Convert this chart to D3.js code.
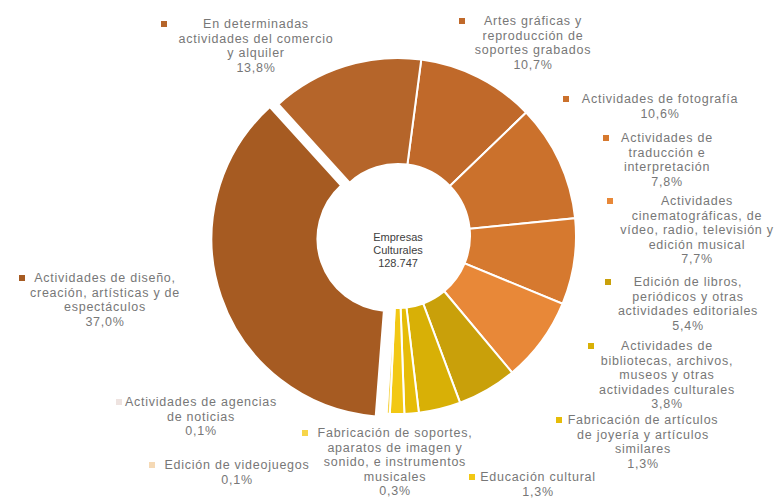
<!DOCTYPE html>
<html lang="es">
<head>
<meta charset="UTF-8">
<title>Empresas culturales</title>
<style>
  body { margin: 0; background: #fff; }
  svg text { font-family: "Liberation Sans", Arial, sans-serif; }
</style>
</head>
<body>
<svg id="chart" width="779" height="501"></svg>
<script src="https://cdn.jsdelivr.net/npm/d3@7/dist/d3.min.js"></script>
<script>
// sectores en el orden del anillo (sentido horario, desde arriba)
var sectores = [
  "Artes gráficas y reproducción de soportes grabados",
  "Actividades de fotografía",
  "Actividades de traducción e interpretación",
  "Actividades cinematográficas, de vídeo, radio, televisión y edición musical",
  "Edición de libros, periódicos y otras actividades editoriales",
  "Actividades de bibliotecas, archivos, museos y otras actividades culturales",
  "Fabricación de artículos de joyería y artículos similares",
  "Educación cultural",
  "Fabricación de soportes, aparatos de imagen y sonido, e instrumentos musicales",
  "Edición de videojuegos",
  "Actividades de agencias de noticias",
  "Actividades de diseño, creación, artísticas y de espectáculos",
  "En determinadas actividades del comercio y alquiler"
];
var porcentajes = [10.7, 10.6, 7.8, 7.7, 5.4, 3.8, 1.3, 1.3, 0.3, 0.1, 0.1, 37.0, 13.8];
var etiquetas = [
  ["Artes gráficas y", "reproducción de", "soportes grabados"],
  ["Actividades de fotografía"],
  ["Actividades de", "traducción e", "interpretación"],
  ["Actividades", "cinematográficas, de", "vídeo, radio, televisión y", "edición musical"],
  ["Edición de libros,", "periódicos y otras", "actividades editoriales"],
  ["Actividades de", "bibliotecas, archivos,", "museos y otras", "actividades culturales"],
  ["Fabricación de artículos", "de joyería y artículos", "similares"],
  ["Educación cultural"],
  ["Fabricación de soportes,", "aparatos de imagen y", "sonido, e instrumentos", "musicales"],
  ["Edición de videojuegos"],
  ["Actividades de agencias", "de noticias"],
  ["Actividades de diseño,", "creación, artísticas y de", "espectáculos"],
  ["En determinadas", "actividades del comercio", "y alquiler"]
];
var totalEmpresas = "128.747";
var destacado = "Actividades de diseño, creación, artísticas y de espectáculos";

var colores = ["#c0692a", "#cb712c", "#d6792f", "#e88838", "#c9a00a", "#d8b006", "#e6bc08",
               "#f2c814", "#f7d54a", "#f5d9b5", "#eee3e0", "#a65b22", "#b5652a"];

// posición de cada etiqueta: [centro texto x, y primera línea, x marcador]
var posEtiquetas = [
  [533, 21, 462], [660, 99, 566], [667, 138, 606], [697, 201, 610],
  [688, 282, 608], [667, 346, 591], [643, 420, 559], [538, 477, 472],
  [395, 433, 305], [237, 465, 152], [201, 402, 119], [105, 278, 22],
  [256, 24, 164]
];

var svg = d3.select("#chart");
var cx = 398, cy = 236, rExt = 178, rInt = 72, separa = 9;
var inicio = 7.5 * Math.PI / 180;

var tarta = d3.pie().sort(null)
    .startAngle(inicio).endAngle(inicio + 2 * Math.PI)
    .value(function(d){ return d; });
var arco = d3.arc().innerRadius(rInt).outerRadius(rExt);
var color = d3.scaleOrdinal().domain(sectores).range(colores);

var g = svg.append("g").attr("transform", "translate(" + cx + "," + cy + ")");
var porciones = tarta(porcentajes);

g.selectAll("path")
  .data(porciones)
  .enter().append("path")
  .attr("d", arco)
  .attr("transform", function(d, i){
      if (sectores[i] != destacado) return null;
      var a = (d.startAngle + d.endAngle) / 2;
      return "translate(" + (Math.sin(a) * separa) + "," + (-Math.cos(a) * separa) + ")";
  })
  .style("fill", function(d, i){ return color(sectores[i]); })
  .style("stroke", "#fff")
  .style("stroke-width", 2);

// texto central
var centro = g.append("text")
  .attr("text-anchor", "middle")
  .style("font-size", "11px")
  .style("fill", "#404040");
["Empresas", "Culturales", totalEmpresas].forEach(function(t, i){
  centro.append("tspan").attr("x", 0).attr("y", 1 + i * 13 + 4).text(t);
});

// etiquetas de datos con su marcador
var fmt = function(v){ return v.toFixed(1).replace(".", ",") + "%"; };
var lh = 14.4;
sectores.forEach(function(s, i){
  var p = posEtiquetas[i];
  svg.append("rect")
    .attr("x", p[2] - 3).attr("y", p[1] - 3)
    .attr("width", 6).attr("height", 6)
    .style("fill", color(s));
  var t = svg.append("text")
    .attr("text-anchor", "middle")
    .style("font-size", "12.5px")
    .style("letter-spacing", "0.75px")
    .style("fill", "#777");
  etiquetas[i].concat([fmt(porcentajes[i])]).forEach(function(linea, k){
    t.append("tspan").attr("x", p[0]).attr("y", p[1] + k * lh + 4.3).text(linea);
  });
});
</script>
</body>
</html>
